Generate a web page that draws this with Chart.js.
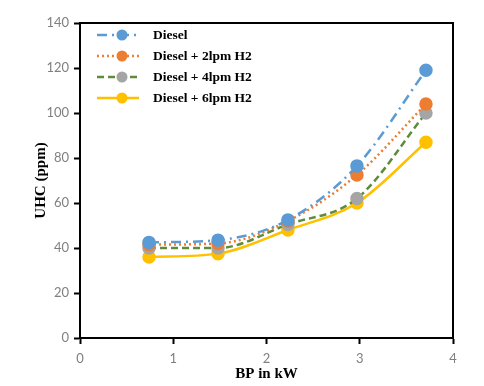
<!DOCTYPE html>
<html>
<head>
<meta charset="utf-8">
<script src="https://cdn.jsdelivr.net/npm/chart.js@4"></script>
<style>
  html, body { margin: 0; padding: 0; background: #fff; }
  #wrap { width: 484px; height: 386px; }
</style>
</head>
<body>
<div id="wrap"><canvas id="uhc-chart" width="484" height="386"></canvas></div>
<script>
// BP values (kW) and UHC readings (ppm)
const bp = [0.74, 1.48, 2.23, 2.97, 3.71];
const diesel = [42.5, 43.5, 52.5, 76.5, 119];
const diesel2 = [41.5, 42, 52, 72.5, 104];
const diesel4 = [40, 40, 50.5, 62, 100];
const diesel6 = [36, 37.5, 48, 60, 87];
const seriesNames = ['Diesel', 'Diesel + 2lpm H2', 'Diesel + 4lpm H2', 'Diesel + 6lpm H2'];

const toPoints = vals => vals.map((v, i) => ({ x: bp[i], y: v }));

const serif = 'Liberation Serif';

// frame around plot + legend inside the plot area
const framePlugin = {
  id: 'frame',
  afterDraw(chart) {
    const { ctx, chartArea: a } = chart;
    ctx.save();
    ctx.strokeStyle = '#000';
    ctx.lineWidth = 2;
    ctx.beginPath();
    ctx.moveTo(a.left, a.top);
    ctx.lineTo(a.right, a.top);
    ctx.lineTo(a.right, a.bottom);
    ctx.stroke();

    // legend
    ctx.font = 'bold 13.5px "' + serif + '"';
    ctx.textBaseline = 'middle';
    chart.data.datasets.forEach((ds, i) => {
      const y = a.top + 12 + i * 21;
      const x0 = a.left + 17;
      ctx.strokeStyle = ds.borderColor;
      ctx.lineWidth = ds.borderWidth;
      ctx.setLineDash(ds.borderDash || []);
      ctx.beginPath();
      ctx.moveTo(x0, y);
      ctx.lineTo(x0 + 42, y);
      ctx.stroke();
      ctx.setLineDash([]);
      ctx.fillStyle = ds.pointBackgroundColor;
      ctx.beginPath();
      ctx.arc(x0 + 25, y, 5.5, 0, Math.PI * 2);
      ctx.fill();
      ctx.fillStyle = '#000';
      ctx.fillText(ds.label, a.left + 73, y + 1);
    });
    ctx.restore();
  }
};

new Chart(document.getElementById('uhc-chart'), {
  type: 'line',
  data: {
    datasets: [
      {
        label: seriesNames[0],
        data: toPoints(diesel),
        borderColor: '#5B9BD5',
        pointBackgroundColor: '#5B9BD5',
        pointBorderColor: '#5B9BD5',
        borderWidth: 2.5,
        borderDash: [10, 5, 2, 5]
      },
      {
        label: seriesNames[1],
        data: toPoints(diesel2),
        borderColor: '#ED7D31',
        pointBackgroundColor: '#ED7D31',
        pointBorderColor: '#ED7D31',
        borderWidth: 2.5,
        borderDash: [2, 3]
      },
      {
        label: seriesNames[2],
        data: toPoints(diesel4),
        borderColor: '#5E8C3A',
        pointBackgroundColor: '#A5A5A5',
        pointBorderColor: '#A5A5A5',
        borderWidth: 2.5,
        borderDash: [7, 4]
      },
      {
        label: seriesNames[3],
        data: toPoints(diesel6),
        borderColor: '#FFC000',
        pointBackgroundColor: '#FFC000',
        pointBorderColor: '#FFC000',
        borderWidth: 2.5
      }
    ]
  },
  options: {
    responsive: false,
    animation: false,
    layout: { padding: { top: 23, right: 31, left: 0, bottom: 0 } },
    elements: {
      line: { cubicInterpolationMode: 'monotone', fill: false },
      point: { radius: 5.5, borderWidth: 0 }
    },
    scales: {
      x: {
        type: 'linear',
        min: 0,
        max: 4,
        afterFit: s => { s.height = 48; },
        border: { color: '#000', width: 2 },
        grid: { drawOnChartArea: false, tickLength: 6, tickColor: '#000', tickWidth: 2 },
        ticks: { stepSize: 1, color: '#7F7F7F', font: { family: 'Lato', size: 13 }, padding: 7 },
        title: {
          display: true,
          text: 'BP in kW',
          color: '#000',
          font: { family: serif, size: 15, weight: 'bold' },
          padding: { top: 0, bottom: 3 }
        }
      },
      y: {
        min: 0,
        max: 140,
        afterFit: s => { s.width = 80; },
        border: { color: '#000', width: 2 },
        grid: { drawOnChartArea: false, tickLength: 6, tickColor: '#000', tickWidth: 2 },
        ticks: { stepSize: 20, color: '#7F7F7F', font: { family: 'Lato', size: 13 }, padding: 5 },
        title: {
          display: true,
          text: 'UHC (ppm)',
          color: '#000',
          font: { family: serif, size: 15, weight: 'bold' },
          padding: { top: 32, bottom: 0 }
        }
      }
    },
    plugins: {
      legend: { display: false },
      tooltip: { enabled: false }
    }
  },
  plugins: [framePlugin]
});
</script>
</body>
</html>
